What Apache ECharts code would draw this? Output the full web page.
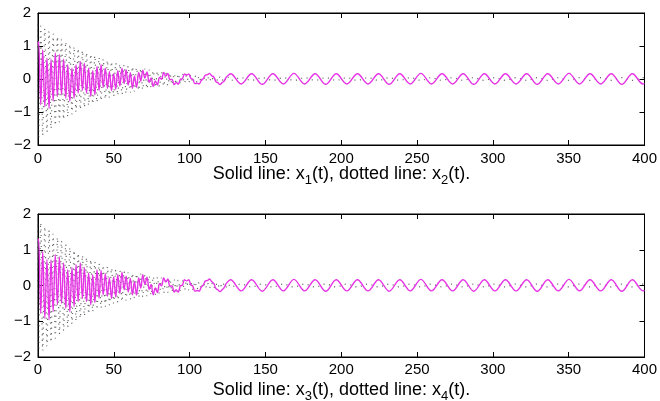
<!DOCTYPE html>
<html>
<head>
<meta charset="utf-8">
<script src="https://cdn.jsdelivr.net/npm/echarts@6/dist/echarts.min.js"></script>
<style>
  html, body { margin: 0; padding: 0; background: #fff; }
  #chart { width: 660px; height: 401px; }
</style>
</head>
<body>
<div id="chart"></div>
<script>
// Sample times (turning points of the traces), shared by all four states
const tSamples = [
  0, 0.4, 1.8, 3.1, 4.5, 5.9, 7.3, 8.6, 10.0, 11.4, 12.8, 14.1, 15.5, 16.9, 18.3, 19.6,
  21.0, 22.4, 23.8, 25.1, 26.5, 27.9, 29.3, 30.6, 32.0, 33.4, 34.8, 36.1, 37.5, 38.9, 40.3, 41.6,
  43.0, 44.4, 45.8, 47.1, 48.5, 49.9, 51.3, 52.6, 54.0, 55.4, 56.8, 58.1, 59.5, 60.9, 62.3, 63.6,
  65.0, 66.4, 67.8, 69.1, 70.5, 71.9, 73.3, 74.6, 76.0, 77.4, 78.8, 80.1, 81.5, 82.9, 84.3, 85.6,
  87.0, 88.4, 89.8, 91.1, 92.5, 93.9, 95.3, 96.6, 98.0, 99.4, 100.8, 102.1, 103.5, 104.9, 106.3, 107.6,
  109.0, 110.4, 111.8, 113.1, 114.5, 115.9, 117.3, 118.6, 120.0, 121.4, 122.8, 124.1, 125.5,
  127.0, 133.95, 140.9, 147.9, 154.9, 161.85, 168.8, 175.8, 182.8, 189.75, 196.7, 203.7, 210.7, 217.65,
  224.6, 231.6, 238.6, 245.55, 252.5, 259.5, 266.5, 273.45, 280.4, 287.4, 294.4, 301.35, 308.3, 315.3,
  322.3, 329.25, 336.2, 343.2, 350.2, 357.15, 364.1, 371.1, 378.1, 385.05, 392.0, 399.0, 400
];

// x1(t): solid trace, upper panel
const x1 = [
  1.05, 1.14, -0.78, 0.89, -0.84, 0.63, -0.89, 0.60, -0.67, 0.79, -0.53, 0.74, -0.48, 0.60, -0.58, 0.43,
  -0.67, 0.33, -0.58, 0.43, -0.43, 0.53, -0.35, 0.48, -0.43, 0.33, -0.53, 0.26, -0.48, 0.38, -0.35, 0.43,
  -0.25, 0.33, -0.28, 0.23, -0.35, 0.16, -0.31, 0.25, -0.21, 0.33, -0.14, 0.28, -0.18, 0.19, -0.28, 0.09,
  -0.25, 0.20, -0.06, 0.27, 0.03, 0.21, -0.10, 0.03, -0.23, -0.06, -0.18, 0.05, -0.01, 0.20, 0.09, 0.17,
  -0.02, -0.01, -0.17, -0.11, -0.16, -0.01, 0.01, 0.15, 0.12, 0.15, 0.02, -0.01, -0.14, -0.13, -0.15, -0.05,
  0.01, 0.12, 0.13, 0.17, 0.10, 0.06, -0.08, -0.11, -0.17, -0.11, -0.06, 0.05, 0.11,
  0.16, -0.15, 0.16, -0.16, 0.16, -0.15, 0.17, -0.15, 0.16, -0.16, 0.16, -0.15, 0.16, -0.15,
  0.16, -0.16, 0.16, -0.15, 0.17, -0.15, 0.16, -0.15, 0.16, -0.16, 0.16, -0.15, 0.16, -0.15,
  0.16, -0.16, 0.16, -0.15, 0.17, -0.15, 0.16, -0.15, 0.16, -0.16, 0.16, -0.15, -0.14
];

// x2(t): dotted trace, upper panel
const x2 = [
  1.65, -1.80, 1.60, -1.70, 1.52, -1.60, 1.44, -1.50, 1.36, -1.40, 1.28, -1.30, 1.20, -1.22, 1.12, -1.14,
  1.05, -1.06, 0.98, -0.99, 0.92, -0.92, 0.86, -0.86, 0.80, -0.80, 0.75, -0.75, 0.70, -0.70, 0.65, -0.65,
  0.60, -0.60, 0.56, -0.56, 0.52, -0.52, 0.48, -0.49, 0.45, -0.46, 0.42, -0.43, 0.39, -0.40, 0.37, -0.37,
  0.34, -0.34, 0.32, -0.32, 0.30, -0.29, 0.27, -0.27, 0.25, -0.25, 0.23, -0.23, 0.21, -0.21, 0.19, -0.19,
  0.18, -0.17, 0.16, -0.16, 0.15, -0.14, 0.14, -0.13, 0.12, -0.12, 0.11, -0.11, 0.10, -0.10, 0.09, -0.09,
  0.08, -0.08, 0.08, -0.07, 0.07, -0.07, 0.06, -0.06, 0.06, -0.05, 0.05, -0.05, 0.05,
  -0.04, 0.04, -0.04, 0.04, -0.04, 0.04, -0.04, 0.04, -0.04, 0.04, -0.04, 0.04, -0.04, 0.04,
  -0.04, 0.04, -0.04, 0.04, -0.04, 0.04, -0.04, 0.04, -0.04, 0.04, -0.04, 0.04, -0.04, 0.04,
  -0.04, 0.04, -0.04, 0.04, -0.04, 0.04, -0.04, 0.04, -0.04, 0.04, -0.04, 0.04, 0.03
];

// x3(t): solid trace, lower panel
const x3 = [
  1.25, 1.30, -0.78, 0.95, -0.92, 0.72, -0.96, 0.72, -0.73, 0.86, -0.54, 0.80, -0.50, 0.63, -0.64, 0.44,
  -0.73, 0.50, -0.59, 0.58, -0.45, 0.63, -0.36, 0.50, -0.45, 0.35, -0.54, 0.30, -0.48, 0.44, -0.36, 0.42,
  -0.26, 0.33, -0.30, 0.21, -0.36, 0.24, -0.32, 0.30, -0.22, 0.37, -0.12, 0.26, -0.18, 0.20, -0.26, 0.11,
  -0.27, 0.21, -0.07, 0.30, 0.03, 0.23, -0.11, 0.03, -0.26, -0.07, -0.20, 0.05, -0.01, 0.21, 0.10, 0.18,
  -0.02, -0.01, -0.18, -0.12, -0.18, -0.01, 0.01, 0.16, 0.13, 0.16, 0.02, -0.02, -0.16, -0.14, -0.16, -0.05,
  0.01, 0.13, 0.14, 0.18, 0.11, 0.06, -0.08, -0.12, -0.17, -0.12, -0.06, 0.05, 0.12,
  0.16, -0.15, 0.16, -0.16, 0.16, -0.15, 0.17, -0.15, 0.16, -0.16, 0.16, -0.15, 0.16, -0.15,
  0.16, -0.16, 0.16, -0.15, 0.17, -0.15, 0.16, -0.15, 0.16, -0.16, 0.16, -0.15, 0.16, -0.15,
  0.16, -0.16, 0.16, -0.15, 0.17, -0.15, 0.16, -0.15, 0.16, -0.16, 0.16, -0.15, -0.14
];

// x4(t): dotted trace, lower panel
const x4 = [
  1.84, -1.88, 1.75, -1.82, 1.64, -1.70, 1.54, -1.58, 1.44, -1.47, 1.34, -1.36, 1.25, -1.26, 1.15, -1.16,
  1.06, -1.07, 0.98, -0.99, 0.90, -0.91, 0.84, -0.85, 0.78, -0.79, 0.72, -0.73, 0.66, -0.67, 0.61, -0.62,
  0.56, -0.58, 0.52, -0.54, 0.48, -0.50, 0.44, -0.47, 0.41, -0.44, 0.39, -0.41, 0.36, -0.38, 0.34, -0.35,
  0.32, -0.33, 0.32, -0.32, 0.30, -0.29, 0.27, -0.27, 0.25, -0.25, 0.23, -0.23, 0.21, -0.21, 0.19, -0.19,
  0.18, -0.17, 0.16, -0.16, 0.15, -0.14, 0.14, -0.13, 0.12, -0.12, 0.11, -0.11, 0.10, -0.10, 0.09, -0.09,
  0.08, -0.08, 0.08, -0.07, 0.07, -0.07, 0.06, -0.06, 0.06, -0.05, 0.05, -0.05, 0.05,
  -0.04, 0.04, -0.04, 0.04, -0.04, 0.04, -0.04, 0.04, -0.04, 0.04, -0.04, 0.04, -0.04, 0.04,
  -0.04, 0.04, -0.04, 0.04, -0.04, 0.04, -0.04, 0.04, -0.04, 0.04, -0.04, 0.04, -0.04, 0.04,
  -0.04, 0.04, -0.04, 0.04, -0.04, 0.04, -0.04, 0.04, -0.04, 0.04, -0.04, 0.04, 0.03
];

// Axis ticks
const xTicks = [0, 50, 100, 150, 200, 250, 300, 350, 400];
const yTicks = [-2, -1, 0, 1, 2];

// Panel captions: [solid index, dotted index]
const captions = [['1', '2'], ['3', '4']];

const FONT = '"Liberation Sans", Arial, Helvetica, sans-serif';
const SOLID = '#e633e6';
const DOTTED = '#333';

const panels = [
  { left: 38, top: 13, width: 607, height: 132, labelMargin: 6, captionTop: 161 },
  { left: 38, top: 214, width: 607, height: 143, labelMargin: 5, captionTop: 377 }
];

const pairs = vals => tSamples.map((t, i) => [t, vals[i]]);
const fmtY = v => (v < 0 ? '\u2212' + Math.abs(v) : String(v));

const grid = [], xAxis = [], yAxis = [], series = [], graphic = [];

panels.forEach((p, gi) => {
  grid.push({ left: p.left, top: p.top, width: p.width, height: p.height,
    show: true, borderColor: '#000', borderWidth: 1, backgroundColor: '#fff' });

  const xBase = {
    type: 'value', gridIndex: gi,
    min: xTicks[0], max: xTicks[xTicks.length - 1], interval: xTicks[1] - xTicks[0],
    splitLine: { show: false },
    axisLine: { show: true, onZero: false, lineStyle: { color: '#000', width: 1 } },
    axisTick: { show: true, inside: true, length: 5, lineStyle: { color: '#000', width: 1 } }
  };
  xAxis.push(Object.assign({}, xBase, { position: 'bottom',
    axisLabel: { show: true, margin: p.labelMargin, fontSize: 15, color: '#000', fontFamily: FONT } }));
  xAxis.push(Object.assign({}, xBase, { position: 'top', axisLabel: { show: false } }));

  const yBase = {
    type: 'value', gridIndex: gi,
    min: yTicks[0], max: yTicks[yTicks.length - 1], interval: yTicks[1] - yTicks[0],
    splitLine: { show: false },
    axisLine: { show: true, onZero: false, lineStyle: { color: '#000', width: 1 } },
    axisTick: { show: true, inside: true, length: 5, lineStyle: { color: '#000', width: 1 } }
  };
  yAxis.push(Object.assign({}, yBase, { position: 'left',
    axisLabel: { show: true, margin: 7, fontSize: 15, color: '#000', fontFamily: FONT, formatter: fmtY } }));
  yAxis.push(Object.assign({}, yBase, { position: 'right', axisLabel: { show: false } }));

  const dotted = gi === 0 ? x2 : x4;
  const solid = gi === 0 ? x1 : x3;

  series.push({
    type: 'line', xAxisIndex: gi * 2, yAxisIndex: gi * 2, data: pairs(dotted),
    showSymbol: false, smooth: 0.35, silent: true,
    lineStyle: { color: DOTTED, width: 1.2, type: [1.1, 4.4], cap: 'butt', opacity: 0.75 }
  });
  series.push({
    type: 'line', xAxisIndex: gi * 2, yAxisIndex: gi * 2, data: pairs(solid),
    showSymbol: false, smooth: 0.35, silent: true,
    lineStyle: { color: SOLID, width: 1.4 }
  });

  // Caption centred under the plot box
  const c = captions[gi];
  graphic.push({
    type: 'text', x: p.left + p.width / 2, y: p.captionTop,
    style: {
      text: '{n|Solid line: x}{s|' + c[0] + '}{n|(t), dotted line: x}{s|' + c[1] + '}{n|(t).}',
      align: 'center', verticalAlign: 'top',
      rich: {
        n: { fontSize: 18, fontFamily: FONT, fill: '#000', lineHeight: 26, verticalAlign: 'middle' },
        s: { fontSize: 13, fontFamily: FONT, fill: '#000', lineHeight: 26, verticalAlign: 'bottom' }
      }
    }
  });
});

const chart = echarts.init(document.getElementById('chart'), null, { renderer: 'canvas' });
chart.setOption({
  animation: false,
  backgroundColor: '#fff',
  grid, xAxis, yAxis, series, graphic
});
</script>
</body>
</html>
